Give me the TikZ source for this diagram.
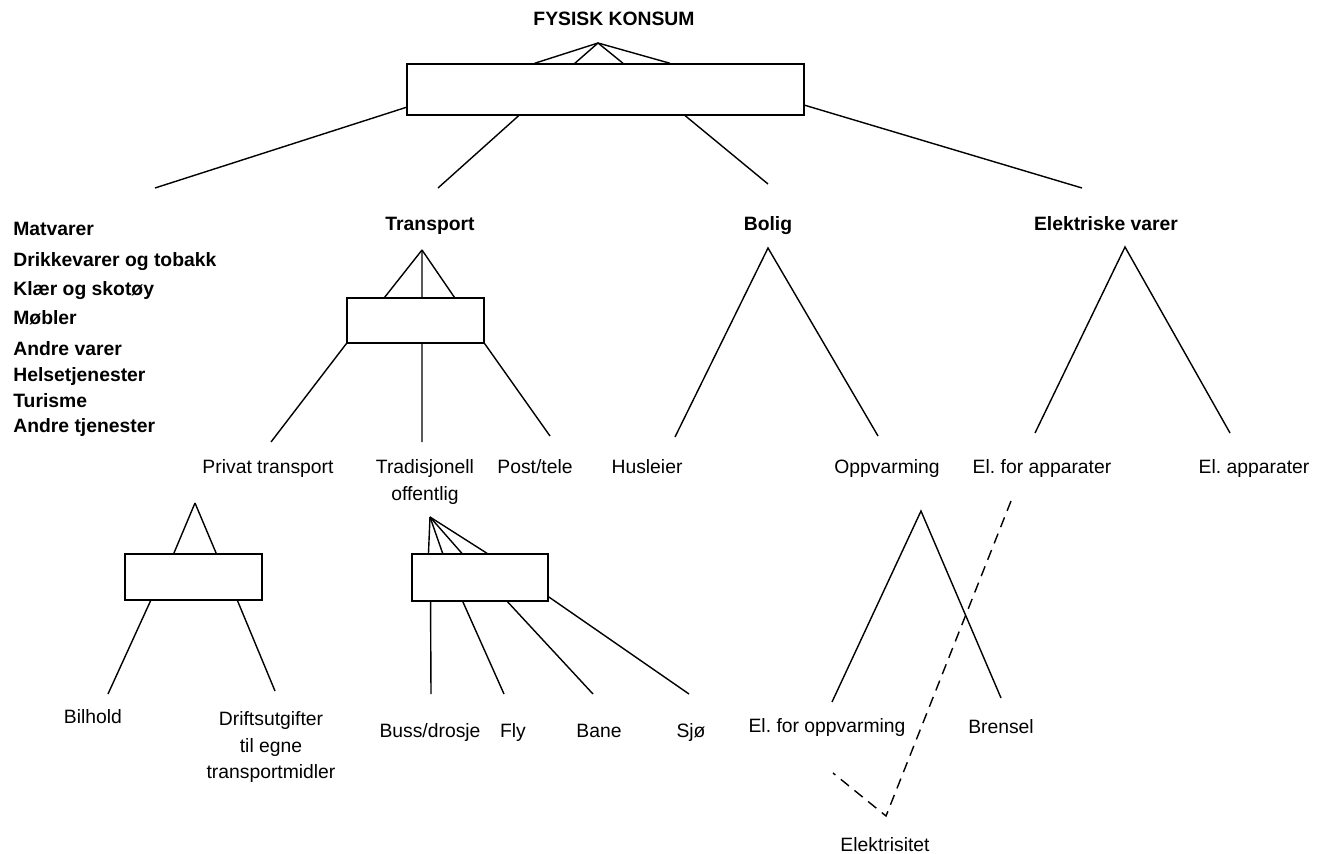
\documentclass[tikz,border=0pt]{standalone}
\usepackage{fontspec}
\setmainfont{Liberation Sans}
\frenchspacing
\usetikzlibrary{calc}

\tikzset{
  lbl/.style={font=\fontsize{11}{15}\selectfont,align=center,inner sep=0pt,anchor=base},
  bold/.style={font=\fontsize{11}{15}\selectfont\bfseries,align=left,inner sep=0pt,anchor=base},
  bar/.style={draw,line width=0.8pt,inner sep=0pt,minimum width=2.74cm,minimum height=0.92cm},
  leg/.style={line width=0.8pt},
  elink/.style={line width=0.8pt,dash pattern=on 6pt off 4pt}
}

\begin{document}
\begin{tikzpicture}[x=0.02cm,y=-0.02cm]
\useasboundingbox (0,0) rectangle (1324,854);
% ==========================================
\node (title) at (614,26) [bold] {FYSISK KONSUM};
\coordinate (topapex) at (598,43);
\node (topbox) at (605.5,89.5) [bar,minimum width=7.94cm,minimum height=1.02cm] {};
\foreach \f in {0.322,0.423,0.544,0.662}
  \draw[leg] (topapex) -- ($(topbox.north west)!\f!(topbox.north east)$);
%
\coordinate (restend) at (155,188);
\coordinate (transend) at (438,188);
\coordinate (boligend) at (768,184);
\coordinate (elend) at (1082,188);
\draw[leg] ($(topbox.north west)!0.84!(topbox.south west)$) -- (restend);
\draw[leg] ($(topbox.south west)!0.282!(topbox.south east)$) -- (transend);
\draw[leg] ($(topbox.south west)!0.700!(topbox.south east)$) -- (boligend);
\draw[leg] ($(topbox.north east)!0.80!(topbox.south east)$) -- (elend);
%
\foreach \y/\t [count=\i] in {236/Matvarer,267/Drikkevarer og tobakk,296/Klær og skotøy,
  325/Møbler,356/Andre varer,381/Helsetjenester,408/Turisme,432/Andre tjenester}
  \node (cat\i) at (13,\y) [bold,anchor=base west] {\t};
%
\node (transport) at (430,231) [bold] {Transport};
\node (bolig) at (768,231) [bold] {Bolig};
\node (elvarer) at (1106,231) [bold] {Elektriske varer};
% ==========================================
% transport
\coordinate (trapex) at (422,250);
\node (trbox) at (415.5,320.5) [bar,minimum height=0.9cm] {};
\foreach \f in {0.277,0.547,0.781}
  \draw[leg] (trapex) -- ($(trbox.north west)!\f!(trbox.north east)$);
\coordinate (privtop) at (271,442);
\coordinate (tradtop) at (422,442);
\coordinate (posttop) at (550,436);
\draw[leg] (trbox.south west) -- (privtop);
\draw[leg] ($(trbox.south west)!0.547!(trbox.south east)$) -- (tradtop);
\draw[leg] (trbox.south east) -- (posttop);
%
\node (privat) at (268,473) [lbl] {Privat transport};
\node (trad) at (425,482) [lbl,anchor=center] {Tradisjonell\\offentlig};
\node (post) at (535,473) [lbl] {Post/tele};
% ==========================================
% bolig og elektriske varer
\coordinate (bolapex) at (768,248);
\coordinate (husend) at (675,437);
\coordinate (oppend) at (878,436);
\draw[leg] (husend) -- (bolapex) -- (oppend);
\node (husleier) at (647,473) [lbl] {Husleier};
\node (oppvarming) at (887,473) [lbl] {Oppvarming};
%
\coordinate (elapex) at (1125,247);
\coordinate (elfaend) at (1035,433);
\coordinate (elaend) at (1230,433);
\draw[leg] (elfaend) -- (elapex) -- (elaend);
\node (elfor) at (1042,473) [lbl] {El. for apparater};
\node (elapp) at (1254,473) [lbl] {El. apparater};
% ==========================================
% privat transport
\coordinate (pvapex) at (195,503);
\node (pvbox) at (193.5,577) [bar] {};
\foreach \f in {0.358,0.664}
  \draw[leg] (pvapex) -- ($(pvbox.north west)!\f!(pvbox.north east)$);
\coordinate (bilend) at (108,694);
\coordinate (driftend) at (275,691);
\draw[leg] ($(pvbox.south west)!0.19!(pvbox.south east)$) -- (bilend);
\draw[leg] ($(pvbox.south west)!0.818!(pvbox.south east)$) -- (driftend);
\node (bilhold) at (93,723) [lbl] {Bilhold};
\node (drift) at (271,747) [lbl,anchor=center] {Driftsutgifter\\til egne\\transportmidler};
% ==========================================
% tradisjonell offentlig
\coordinate (tdapex) at (430,517);
\node (tdbox) at (480,577.5) [bar,minimum width=2.72cm,minimum height=0.94cm] {};
\foreach \f in {0.125,0.228,0.368,0.551}
  \draw[leg] (tdapex) -- ($(tdbox.north west)!\f!(tdbox.north east)$);
\coordinate (bussend) at (431,694);
\coordinate (flyend) at (504,694);
\coordinate (baneend) at (593,694);
\coordinate (sjoend) at (689,694);
\draw[leg] ($(tdbox.south west)!0.14!(tdbox.south east)$) -- (bussend);
\draw[leg] ($(tdbox.south west)!0.375!(tdbox.south east)$) -- (flyend);
\draw[leg] ($(tdbox.south west)!0.70!(tdbox.south east)$) -- (baneend);
\draw[leg] ($(tdbox.south east)!0.1!(tdbox.north east)$) -- (sjoend);
\node (buss) at (430,737) [lbl] {Buss/drosje};
\node (fly) at (513,737) [lbl] {Fly};
\node (bane) at (599,737) [lbl] {Bane};
\node (sjo) at (691,737) [lbl] {Sjø};
% ==========================================
% oppvarming
\coordinate (opapex) at (921,511);
\coordinate (elopend) at (832,702);
\coordinate (brenend) at (1001,698);
\draw[leg] (elopend) -- (opapex) -- (brenend);
\node (elopp) at (827,732) [lbl] {El. for oppvarming};
\node (brensel) at (1001,733) [lbl] {Brensel};
%
\coordinate (elfadash) at (1011,501);
\coordinate (elv) at (886,816);
\coordinate (elopdash) at (833,773);
\draw[elink] (elfadash) -- (elv) -- (elopdash);
\node (elektrisitet) at (885,851) [lbl] {Elektrisitet};
% =============================================
\end{tikzpicture}
\end{document}
